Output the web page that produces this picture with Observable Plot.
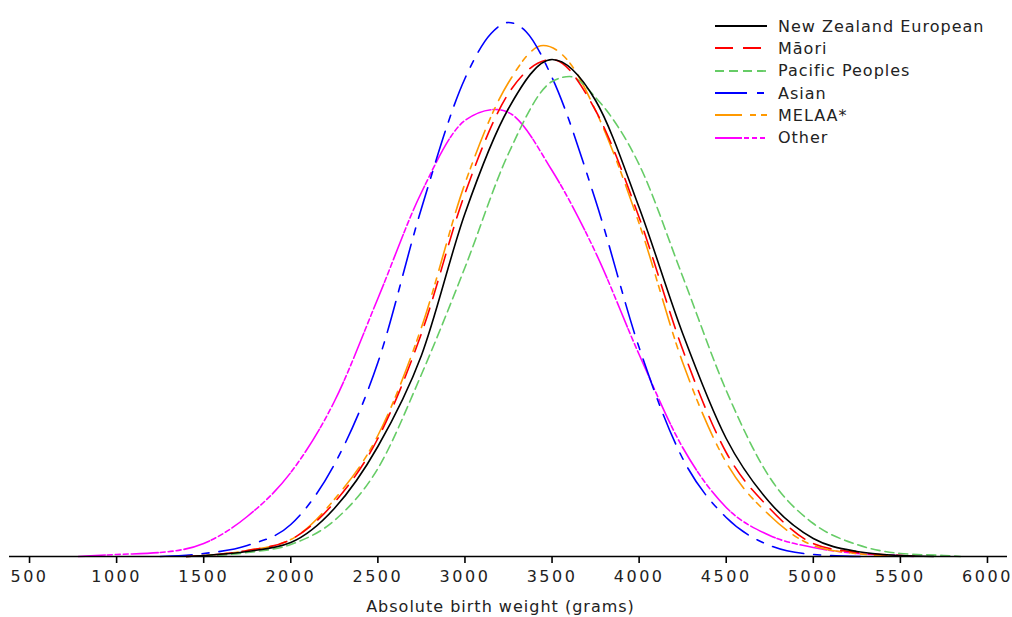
<!DOCTYPE html>
<html>
<head>
<meta charset="utf-8">
<script src="https://cdn.jsdelivr.net/npm/d3@7"></script>
<script src="https://cdn.jsdelivr.net/npm/@observablehq/plot@0.6"></script>
<style>
  body { margin: 0; background: #fff; }
  #wrap { position: relative; width: 1012px; height: 617px; font-family: "DejaVu Sans", Verdana, sans-serif; }
  #wrap svg text { letter-spacing: 1px; }
  #wrap g[aria-label="x-axis tick label"] text { letter-spacing: 2.5px; }
  #legend { position: absolute; left: 715px; top: 15px; }
  .row { display: flex; align-items: center; height: 22.3px; }
  .row span { margin-left: 11px; font-size: 16px; letter-spacing: 1px; color: #222; white-space: nowrap; }
</style>
</head>
<body>
<div id="wrap"></div>
<script>
// ---- Data (relative density) ----
const ethnicities = ["New Zealand European", "Māori", "Pacific Peoples", "Asian", "MELAA*", "Other"];

const nzeWeight  = [1400,1500,1750,2000,2250,2500,2750,3000,3250,3500,3750,4000,4250,4500,4750,5000,5250,5500,5690];
const nzeDensity = [0,1,5,14,48,110,201,343,448,497,456,349,223,118,54,18,5,1,0];

const maoriWeight  = [1400,1500,1750,2000,2250,2500,2750,3000,3250,3500,3750,4000,4250,4500,4750,5000,5250,5500,5625];
const maoriDensity = [0,1,6,17,54,118,223,363,463,497,446,339,207,104,48,13,4,1,0];

const pacificWeight  = [1500,1750,2000,2250,2500,2750,3000,3250,3500,3600,3750,4000,4250,4500,4750,5000,5250,5500,5750,5845];
const pacificDensity = [0,4,12,36,88,182,289,403,475,480,459,392,280,166,79,33,12,3,1,0];

const asianWeight  = [1250,1500,1750,2000,2250,2500,2750,3000,3150,3250,3350,3500,3750,4000,4250,4500,4750,5000,5270];
const asianDensity = [0,3,11,32,92,194,348,478,523,534,525,479,356,209,98,39,11,2,0];

const melaaWeight  = [1400,1500,1750,2000,2250,2500,2750,3000,3250,3450,3600,3750,4000,4250,4500,4750,5000,5250,5540];
const melaaDensity = [0,1,6,17,57,121,229,373,474,511,494,446,333,194,94,41,11,3,0];

const otherWeight  = [780,1000,1250,1500,1750,2000,2250,2500,2750,3000,3175,3250,3500,3750,4000,4250,4500,4750,5000,5250,5500,5575];
const otherDensity = [0,2,4,13,40,84,155,258,364,436,447,444,386,304,202,109,49,21,9,3,1,0];

const tickValues = [500,1000,1500,2000,2500,3000,3500,4000,4500,5000,5500,6000];
const xLabel = "Absolute birth weight (grams)";

// ---- Styles ----
const colors = ["#000000", "#ff0000", "#66cc66", "#0000ff", "#ff9900", "#ff00ff"];
const dashes = [null, "18,10", "9,5", "32,10,7,10", "27,8,6,5,6,8", "27,2,5,3,5,3,5,3"];

const weights = [nzeWeight, maoriWeight, pacificWeight, asianWeight, melaaWeight, otherWeight];
const densities = [nzeDensity, maoriDensity, pacificDensity, asianDensity, melaaDensity, otherDensity];

const rows = ethnicities.map((name, i) => weights[i].map((w, j) => ({ethnicity: name, weight: w, density: densities[i][j]})));

const drawOrder = [5, 4, 3, 2, 1, 0];
const lineMarks = drawOrder.map(i => Plot.line(rows[i], {
  x: "weight", y: "density", stroke: colors[i], strokeWidth: 1.6,
  strokeDasharray: dashes[i] || undefined, curve: "monotone-x"
}));

const chart = Plot.plot({
  width: 1012,
  height: 617,
  marginLeft: 9,
  marginRight: 5,
  marginTop: 22,
  marginBottom: 61,
  style: {fontFamily: "DejaVu Sans, Verdana, sans-serif", fontSize: "16px", color: "#222", background: "white"},
  x: {domain: [385, 6115]},
  y: {domain: [0, 534], axis: null},
  marks: [
    ...lineMarks,
    Plot.ruleY([0], {stroke: "#000", strokeWidth: 1.6}),
    Plot.axisX(tickValues, {tickSize: 7, tickPadding: 7, tickFormat: d3.format("d"), stroke: "#000", strokeWidth: 1.6, fill: "#222", fontSize: 16, label: null}),
    Plot.text([xLabel], {frameAnchor: "bottom", dy: 55, dx: -8, lineAnchor: "bottom", fontSize: 16, fill: "#222", text: d => d})
  ]
});

const wrap = document.getElementById("wrap");
wrap.appendChild(chart);

// ---- Legend ----
const legend = document.createElement("div");
legend.id = "legend";
ethnicities.forEach((name, i) => {
  const row = document.createElement("div");
  row.className = "row";
  const svgNS = "http://www.w3.org/2000/svg";
  const s = document.createElementNS(svgNS, "svg");
  s.setAttribute("width", "52");
  s.setAttribute("height", "10");
  const ln = document.createElementNS(svgNS, "line");
  ln.setAttribute("x1", "0"); ln.setAttribute("x2", "52");
  ln.setAttribute("y1", "5"); ln.setAttribute("y2", "5");
  ln.setAttribute("stroke", colors[i]);
  ln.setAttribute("stroke-width", "1.8");
  if (dashes[i]) ln.setAttribute("stroke-dasharray", dashes[i]);
  s.appendChild(ln);
  const t = document.createElement("span");
  t.textContent = name;
  row.appendChild(s);
  row.appendChild(t);
  legend.appendChild(row);
});
wrap.appendChild(legend);
</script>
</body>
</html>
